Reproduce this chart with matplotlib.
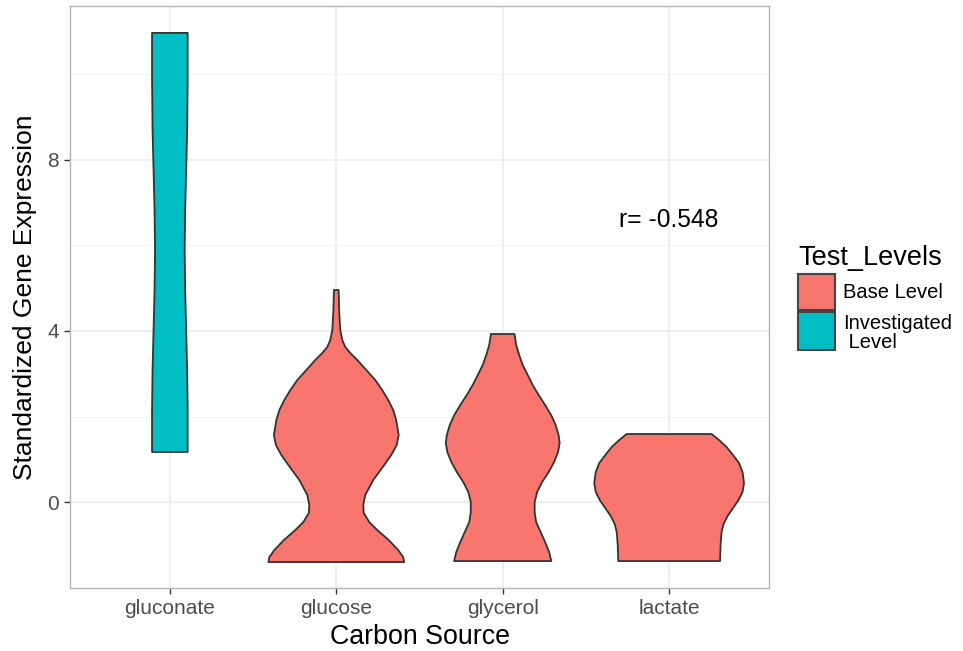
import numpy as np
import matplotlib
matplotlib.use("Agg")
import matplotlib.pyplot as plt
from matplotlib.patches import Rectangle

plt.rcParams['font.family'] = ['Liberation Sans', 'DejaVu Sans']

categories = ["gluconate", "glucose", "glycerol", "lactate"]
levels = ["Base Level", "Investigated\n Level"]
level_colors = ["#F8766D", "#00BFC4"]
violin_level = [1, 0, 0, 0]

# violin profiles: y values and half-widths (in category units)
gluconate_y = [10.971, 9.871, 8.702, 7.766, 6.830, 5.895, 4.959, 4.023, 3.088, 2.152, 1.170]
gluconate_hw = [0.107, 0.107, 0.104, 0.098, 0.092, 0.089, 0.092, 0.098, 0.104, 0.107, 0.107]

glucose_y = [4.959, 4.421, 4.023, 3.789, 3.626, 3.485, 3.322, 3.088, 2.854, 2.620, 2.386,
             2.152, 1.918, 1.567, 1.333, 1.099, 0.865, 0.515, 0.164, -0.070, -0.257,
             -0.468, -0.655, -0.889, -1.123, -1.287, -1.404]
glucose_hw = [0.014, 0.018, 0.024, 0.036, 0.054, 0.084, 0.126, 0.180, 0.234, 0.276, 0.312,
              0.342, 0.360, 0.375, 0.363, 0.330, 0.288, 0.222, 0.174, 0.162, 0.165,
              0.198, 0.246, 0.315, 0.372, 0.402, 0.408]

glycerol_y = [3.930, 3.673, 3.439, 3.205, 2.971, 2.737, 2.503, 2.269, 2.035, 1.801, 1.567,
              1.380, 1.170, 0.936, 0.702, 0.468, 0.234, 0.0, -0.234, -0.468, -0.702,
              -0.936, -1.170, -1.380]
glycerol_hw = [0.071, 0.081, 0.099, 0.120, 0.150, 0.180, 0.216, 0.255, 0.291, 0.318, 0.336,
               0.342, 0.333, 0.309, 0.276, 0.237, 0.207, 0.192, 0.192, 0.201, 0.228,
               0.255, 0.279, 0.292]

lactate_y = [1.591, 1.450, 1.287, 1.099, 0.912, 0.702, 0.444, 0.234, 0.047, -0.140, -0.327,
             -0.515, -0.702, -1.006, -1.380]
lactate_hw = [0.255, 0.300, 0.345, 0.384, 0.420, 0.441, 0.450, 0.441, 0.417, 0.384, 0.351,
              0.327, 0.315, 0.309, 0.306]

profiles = [(gluconate_y, gluconate_hw), (glucose_y, glucose_hw),
            (glycerol_y, glycerol_hw), (lactate_y, lactate_hw)]

annot_text = "r= -0.548"
annot_x, annot_y = 4, 6.6

W, H = 963, 651
fig = plt.figure(figsize=(W / 100, H / 100), dpi=100)
ax = fig.add_axes([70 / W, (H - 588) / H, 699 / W, 582 / H])

ax.set_xlim(0.4, 4.6)
ax.set_ylim(-2.01, 11.6)

for yv in [-2, 2, 6, 10]:
    ax.axhline(yv, color="#f2f2f2", lw=0.6, zorder=0)
for yv in [0, 4, 8]:
    ax.axhline(yv, color="#ebebeb", lw=1.1, zorder=0)
for i in range(len(categories)):
    ax.axvline(i + 1, color="#ebebeb", lw=1.1, zorder=0)

for i, (ys, hws) in enumerate(profiles):
    ys = np.array(ys)
    hws = np.array(hws)
    xc = i + 1
    px = np.concatenate([xc - hws, (xc + hws)[::-1]])
    py = np.concatenate([ys, ys[::-1]])
    ax.fill(px, py, facecolor=level_colors[violin_level[i]], edgecolor="#333333",
            lw=1.3, joinstyle="round", zorder=2)

ax.text(annot_x, annot_y, annot_text, ha="center", va="center", fontsize=17.7, color="black")

ax.set_xticks(range(1, len(categories) + 1))
ax.set_xticklabels(categories)
ax.set_yticks([0, 4, 8])
ax.tick_params(axis="both", colors="#333333", labelcolor="#4d4d4d", labelsize=15,
               length=4.5, width=1, pad=3.5)
for s in ax.spines.values():
    s.set_color("#b3b3b3")
    s.set_linewidth(1.0)

ax.set_xlabel("Carbon Source", fontsize=19.3, va="center")
ax.set_ylabel("Standardized Gene Expression", fontsize=19, va="center")
ax.xaxis.set_label_coords(0.5, (588 - 637) / 582)
ax.yaxis.set_label_coords((25 - 70) / 699, 0.5)

# legend
fig.text(798 / W, 1 - 258 / H, "Test_Levels", fontsize=19.5, ha="left", va="center")
key_boxes = [(274, 310), (312, 350)]
for k, (top, bot) in enumerate(key_boxes):
    fig.add_artist(Rectangle((798 / W, 1 - bot / H), 37 / W, (bot - top) / H,
                             facecolor=level_colors[k], edgecolor="#444444", lw=1.5,
                             transform=fig.transFigure))
fig.text(843 / W, 1 - 293 / H, levels[0], fontsize=14.5, ha="left", va="center")
fig.text(843 / W, 1 - 333 / H, levels[1], fontsize=14.5, ha="left", va="center",
         linespacing=0.95)

fig.savefig("out.png", dpi=100)
